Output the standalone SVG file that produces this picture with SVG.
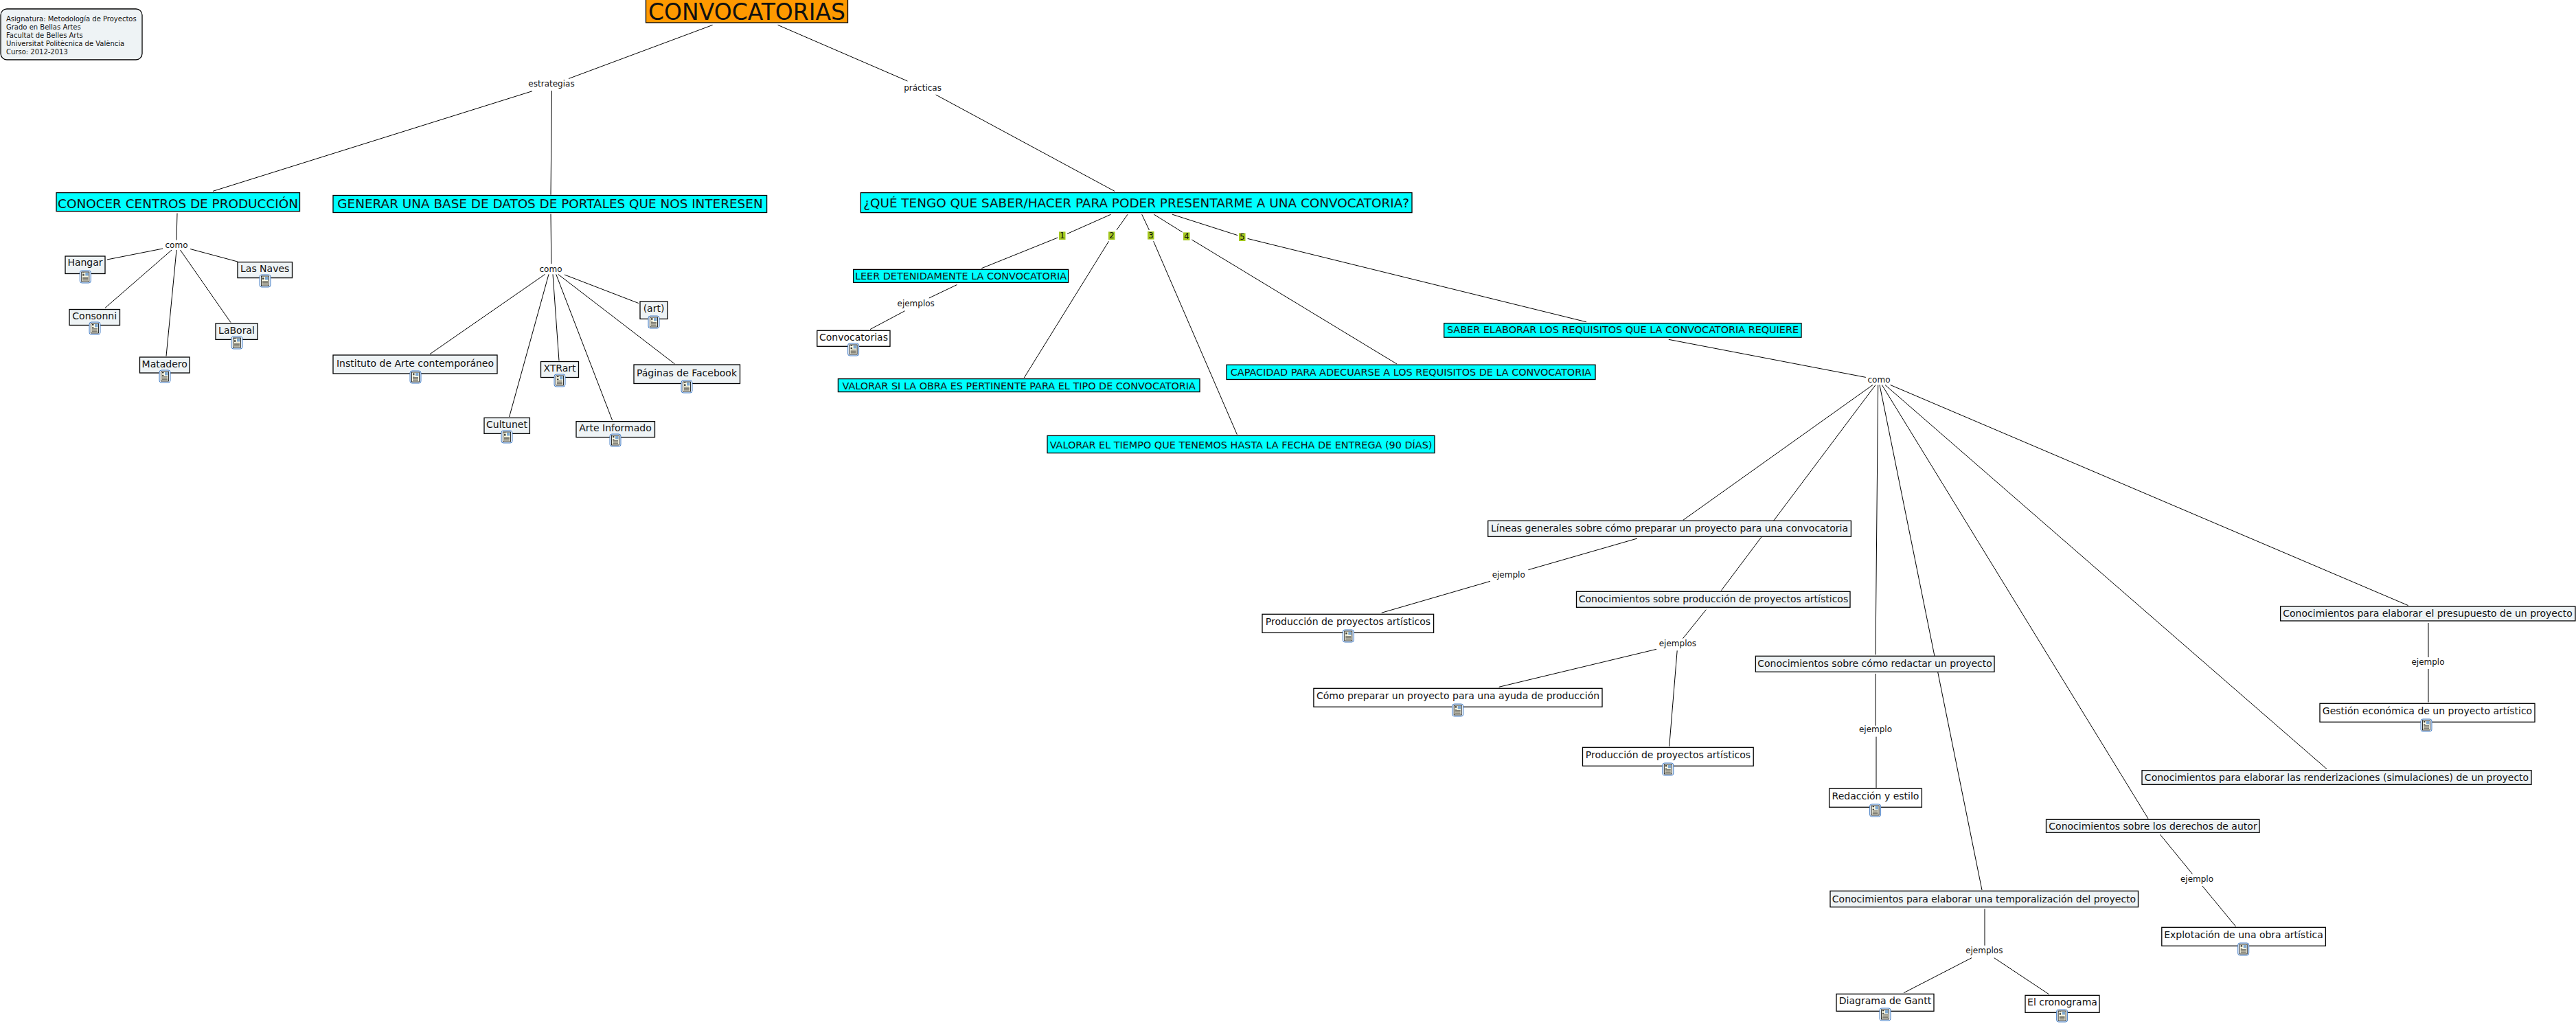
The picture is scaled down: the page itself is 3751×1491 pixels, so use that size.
<svg xmlns="http://www.w3.org/2000/svg" width="3751" height="1491" viewBox="0 0 3751 1491">
<style>
text{font-family:"DejaVu Sans",Verdana,sans-serif;fill:#111;text-anchor:middle;dominant-baseline:central}
.n rect{stroke:#000;stroke-width:1.3}
.p rect{fill:#eef3f5}.w rect{fill:#fff}.c rect{fill:#0ff}.o rect{fill:#f90}
.n text{font-size:14px}
.c text{font-size:14.4px}
.b text{font-size:18.4px}
.l{font-size:12px}
.t text{font-size:10px;text-anchor:start}
.k rect{fill:#a3c81e}
.k text{font-size:11.5px}
#e line{stroke:#000;stroke-width:1;fill:none}
</style>
<defs>
<g id="ic">
<rect x="-8" y="-9" width="16" height="18" rx="3" fill="#e6eef8" stroke="#4a82c8" stroke-width="1"/>
<rect x="-5.5" y="-7" width="11" height="14" fill="#fffde8" stroke="#000" stroke-width="0.8"/>
<rect x="0" y="-6" width="4.5" height="4.5" fill="#7fa8d0"/>
<rect x="-4" y="-6" width="2.5" height="0.8" fill="#000"/>
<rect x="-4" y="-4" width="2.5" height="0.8" fill="#000"/>
<rect x="-4" y="-2" width="2.5" height="0.8" fill="#000"/>
<rect x="-4" y="0.5" width="8" height="0.8" fill="#000"/>
<rect x="-4" y="2.5" width="8" height="0.8" fill="#000"/>
<rect x="-4" y="4.5" width="8" height="0.8" fill="#000"/>
</g>
</defs>
<g id="e">
<line x1="1037.7" y1="36.4" x2="828" y2="114.5"/>
<line x1="775" y1="132.7" x2="310" y2="278.4"/>
<line x1="803.5" y1="132" x2="802" y2="283.6"/>
<line x1="802" y1="311.4" x2="802.8" y2="384"/>
<line x1="258" y1="310.5" x2="257" y2="349.5"/>
<line x1="237" y1="362" x2="156" y2="378"/>
<line x1="277" y1="362.5" x2="346" y2="381"/>
<line x1="250" y1="364" x2="153" y2="448.4"/>
<line x1="257" y1="364" x2="242" y2="518.6"/>
<line x1="262.5" y1="364" x2="336" y2="469.6"/>
<line x1="793.6" y1="399.4" x2="626" y2="515.6"/>
<line x1="799" y1="399.4" x2="741.6" y2="607"/>
<line x1="805" y1="399.4" x2="814" y2="525"/>
<line x1="809.7" y1="399.4" x2="891.6" y2="612"/>
<line x1="812.7" y1="399.4" x2="982.6" y2="530"/>
<line x1="822" y1="400" x2="929.8" y2="441.5"/>
<line x1="1132.6" y1="36.4" x2="1321.4" y2="118"/>
<line x1="1362.7" y1="138" x2="1623" y2="278.4"/>
<line x1="1617.6" y1="312.2" x2="1554" y2="340.4"/>
<line x1="1540.3" y1="346" x2="1429.3" y2="390.7"/>
<line x1="1642" y1="312.2" x2="1626" y2="334.8"/>
<line x1="1614.5" y1="351.3" x2="1491.3" y2="550"/>
<line x1="1662.7" y1="312.2" x2="1673.4" y2="335"/>
<line x1="1679.6" y1="351.3" x2="1801.3" y2="632.7"/>
<line x1="1680.3" y1="312.2" x2="1721.7" y2="338"/>
<line x1="1735.4" y1="349" x2="2034" y2="530"/>
<line x1="1707" y1="312.2" x2="1802" y2="342.6"/>
<line x1="1816.6" y1="347.4" x2="2310" y2="468.8"/>
<line x1="1393.4" y1="414.6" x2="1352.8" y2="434"/>
<line x1="1317.6" y1="452.7" x2="1267" y2="479.6"/>
<line x1="2429.8" y1="494.3" x2="2716.8" y2="549.4"/>
<line x1="2727" y1="560.5" x2="2451" y2="757.2"/>
<line x1="2731" y1="560.5" x2="2506.4" y2="859.8"/>
<line x1="2734.7" y1="560.5" x2="2731" y2="953.3"/>
<line x1="2737" y1="560.5" x2="2886" y2="1296"/>
<line x1="2740.4" y1="560.5" x2="3128" y2="1192"/>
<line x1="2745" y1="560.5" x2="3388" y2="1119.7"/>
<line x1="2752.6" y1="560.5" x2="3506.6" y2="881.6"/>
<line x1="2384" y1="784" x2="2225.4" y2="829.7"/>
<line x1="2170" y1="846.3" x2="2011.7" y2="892.3"/>
<line x1="2484.3" y1="887.7" x2="2450.5" y2="929.7"/>
<line x1="2412" y1="945.3" x2="2182.7" y2="1000.3"/>
<line x1="2442.2" y1="947.3" x2="2430.7" y2="1086.7"/>
<line x1="2731" y1="981" x2="2731" y2="1056.7"/>
<line x1="2732" y1="1072.7" x2="2732" y2="1147"/>
<line x1="2890" y1="1323.3" x2="2890" y2="1376.7"/>
<line x1="2871" y1="1394.7" x2="2772" y2="1445.7"/>
<line x1="2903.7" y1="1394.7" x2="2983.5" y2="1447.7"/>
<line x1="3145.4" y1="1215" x2="3192.5" y2="1272.7"/>
<line x1="3206.9" y1="1290" x2="3255.6" y2="1349"/>
<line x1="3536" y1="907" x2="3536" y2="957"/>
<line x1="3536" y1="974" x2="3536" y2="1022.5"/>
</g>
<g id="legend" class="n p t"><rect x="1" y="13" width="206" height="74" rx="9"/>
<text x="9" y="27">Asignatura: Metodología de Proyectos</text>
<text x="9" y="39">Grado en Bellas Artes</text>
<text x="9" y="51">Facultat de Belles Arts</text>
<text x="9" y="63">Universitat Politècnica de València</text>
<text x="9" y="75">Curso: 2012-2013</text>
</g>
<g id="n0" class="n o"><rect x="940.5" y="-2" width="294" height="35"/><text x="1087.5" y="17" style="font-size:33px">CONVOCATORIAS</text></g>
<g id="n1" class="n c b"><rect x="82" y="280.6" width="354.5" height="27"/><text x="259" y="296">CONOCER CENTROS DE PRODUCCIÓN</text></g>
<g id="n2" class="n c b"><rect x="485" y="284.5" width="631.6" height="25"/><text x="801" y="296">GENERAR UNA BASE DE DATOS DE PORTALES QUE NOS INTERESEN</text></g>
<g id="n3" class="n c b"><rect x="1253.3" y="280.6" width="802.7" height="29"/><text x="1654.6" y="295">¿QUÉ TENGO QUE SABER/HACER PARA PODER PRESENTARME A UNA CONVOCATORIA?</text></g>
<g id="n4" class="n p"><rect x="95" y="373" width="58" height="25.5"/><text x="124" y="382">Hangar</text><use href="#ic" x="124.3" y="403"/></g>
<g id="n5" class="n p"><rect x="346" y="381.6" width="79.5" height="23"/><text x="385.7" y="391">Las Naves</text><use href="#ic" x="386" y="409"/></g>
<g id="n6" class="n p"><rect x="101" y="450.5" width="73.5" height="23"/><text x="137.7" y="460">Consonni</text><use href="#ic" x="138" y="478"/></g>
<g id="n7" class="n p"><rect x="314" y="471" width="61" height="23.4"/><text x="344.5" y="481">LaBoral</text><use href="#ic" x="345" y="499"/></g>
<g id="n8" class="n p"><rect x="203.5" y="520" width="72.5" height="23"/><text x="239.7" y="530">Matadero</text><use href="#ic" x="240" y="548"/></g>
<g id="n9" class="n p"><rect x="485" y="517" width="239" height="27"/><text x="604.5" y="529">Instituto de Arte contemporáneo</text><use href="#ic" x="605" y="549"/></g>
<g id="n10" class="n p"><rect x="787.5" y="526.5" width="55" height="23"/><text x="815" y="536">XTRart</text><use href="#ic" x="815" y="554"/></g>
<g id="n11" class="n p"><rect x="923" y="531" width="154.5" height="27.5"/><text x="1000" y="543">Páginas de Facebook</text><use href="#ic" x="1000" y="563"/></g>
<g id="n12" class="n p"><rect x="932" y="439" width="40" height="25.4"/><text x="952" y="449">(art)</text><use href="#ic" x="952" y="469"/></g>
<g id="n13" class="n p"><rect x="705" y="608.4" width="66.4" height="23"/><text x="738" y="618">Cultunet</text><use href="#ic" x="738" y="636"/></g>
<g id="n14" class="n p"><rect x="839" y="613.6" width="114.5" height="23"/><text x="896" y="623">Arte Informado</text><use href="#ic" x="896" y="641"/></g>
<g id="n15" class="n c"><rect x="1242.6" y="392.4" width="313" height="19"/><text x="1399" y="402">LEER DETENIDAMENTE LA CONVOCATORIA</text></g>
<g id="n16" class="n w"><rect x="1189.8" y="481.3" width="106.2" height="23"/><text x="1243" y="491">Convocatorias</text><use href="#ic" x="1242.6" y="509"/></g>
<g id="n17" class="n c"><rect x="1220.4" y="551.6" width="526.6" height="19"/><text x="1483.7" y="561.5">VALORAR SI LA OBRA ES PERTINENTE PARA EL TIPO DE CONVOCATORIA</text></g>
<g id="n18" class="n c"><rect x="1525" y="634.4" width="564" height="25.2"/><text x="1807" y="648">VALORAR EL TIEMPO QUE TENEMOS HASTA LA FECHA DE ENTREGA (90 DÍAS)</text></g>
<g id="n19" class="n c"><rect x="1786" y="531.2" width="537" height="21.3"/><text x="2054.5" y="541.5">CAPACIDAD PARA ADECUARSE A LOS REQUISITOS DE LA CONVOCATORIA</text></g>
<g id="n20" class="n c"><rect x="2102.7" y="470.6" width="520.3" height="20.6"/><text x="2363" y="480">SABER ELABORAR LOS REQUISITOS QUE LA CONVOCATORIA REQUIERE</text></g>
<g id="n21" class="n p"><rect x="2166.7" y="758.3" width="528.7" height="23"/><text x="2431" y="769">Líneas generales sobre cómo preparar un proyecto para una convocatoria</text></g>
<g id="n22" class="n w"><rect x="1838" y="894.3" width="249.6" height="27"/><text x="1963" y="905">Producción de proyectos artísticos</text><use href="#ic" x="1963.3" y="926"/></g>
<g id="n23" class="n p"><rect x="2295.5" y="861.3" width="398.5" height="23"/><text x="2495" y="872">Conocimientos sobre producción de proyectos artísticos</text></g>
<g id="n24" class="n w"><rect x="1912.9" y="1002.3" width="420.1" height="27"/><text x="2123" y="1013">Cómo preparar un proyecto para una ayuda de producción</text><use href="#ic" x="2122.7" y="1034"/></g>
<g id="n25" class="n w"><rect x="2304.5" y="1088.3" width="248.7" height="27"/><text x="2429" y="1099">Producción de proyectos artísticos</text><use href="#ic" x="2428.8" y="1120"/></g>
<g id="n26" class="n p"><rect x="2556.4" y="955.3" width="347.6" height="23"/><text x="2730" y="966">Conocimientos sobre cómo redactar un proyecto</text></g>
<g id="n27" class="n w"><rect x="2663.6" y="1148.3" width="134.8" height="27"/><text x="2731" y="1159">Redacción y estilo</text><use href="#ic" x="2730.6" y="1180"/></g>
<g id="n28" class="n p"><rect x="2665" y="1297.3" width="448.5" height="23.4"/><text x="2889" y="1309">Conocimientos para elaborar una temporalización del proyecto</text></g>
<g id="n29" class="n w"><rect x="2674" y="1447.3" width="142" height="25"/><text x="2745" y="1457">Diagrama de Gantt</text><use href="#ic" x="2745" y="1477"/></g>
<g id="n30" class="n w"><rect x="2949" y="1449.3" width="108" height="25"/><text x="3003" y="1459">El cronograma</text><use href="#ic" x="3002.6" y="1479"/></g>
<g id="n31" class="n p"><rect x="2979.5" y="1193.3" width="310.5" height="19"/><text x="3135" y="1203">Conocimientos sobre los derechos de autor</text></g>
<g id="n32" class="n w"><rect x="3147.8" y="1350.3" width="238.6" height="27"/><text x="3267" y="1361">Explotación de una obra artística</text><use href="#ic" x="3266.7" y="1382"/></g>
<g id="n33" class="n p"><rect x="3119" y="1121.7" width="567" height="20.6"/><text x="3402.5" y="1131.5">Conocimientos para elaborar las renderizaciones (simulaciones) de un proyecto</text></g>
<g id="n34" class="n w"><rect x="3378" y="1024.3" width="313" height="27"/><text x="3534.5" y="1035">Gestión económica de un proyecto artístico</text><use href="#ic" x="3533" y="1056"/></g>
<g id="n35" class="n p"><rect x="3320.6" y="883" width="429.4" height="21"/><text x="3535" y="893">Conocimientos para elaborar el presupuesto de un proyecto</text></g>
<g id="labels">
<text class="l" x="803" y="122">estrategias</text>
<text class="l" x="1343.6" y="127.5">prácticas</text>
<text class="l" x="257" y="357">como</text>
<text class="l" x="802" y="392">como</text>
<text class="l" x="2736" y="553">como</text>
<text class="l" x="1333.7" y="442">ejemplos</text>
<text class="l" x="2196.7" y="837">ejemplo</text>
<text class="l" x="2442.9" y="937">ejemplos</text>
<text class="l" x="2731" y="1062">ejemplo</text>
<text class="l" x="2889.3" y="1384.3">ejemplos</text>
<text class="l" x="3199" y="1280">ejemplo</text>
<text class="l" x="3535.5" y="964">ejemplo</text>
</g>
<g id="k1" class="k"><rect x="1542" y="337.4" width="9.5" height="11.6"/><text x="1546.8" y="343">1</text></g>
<g id="k2" class="k"><rect x="1614" y="337.4" width="9.5" height="11.6"/><text x="1618.8" y="343">2</text></g>
<g id="k3" class="k"><rect x="1671" y="337" width="9.5" height="11.6"/><text x="1675.8" y="342.6">3</text></g>
<g id="k4" class="k"><rect x="1723" y="338.4" width="9.5" height="11.6"/><text x="1727.8" y="344">4</text></g>
<g id="k5" class="k"><rect x="1804" y="339.4" width="9.5" height="11.6"/><text x="1808.8" y="345">5</text></g>
</svg>
